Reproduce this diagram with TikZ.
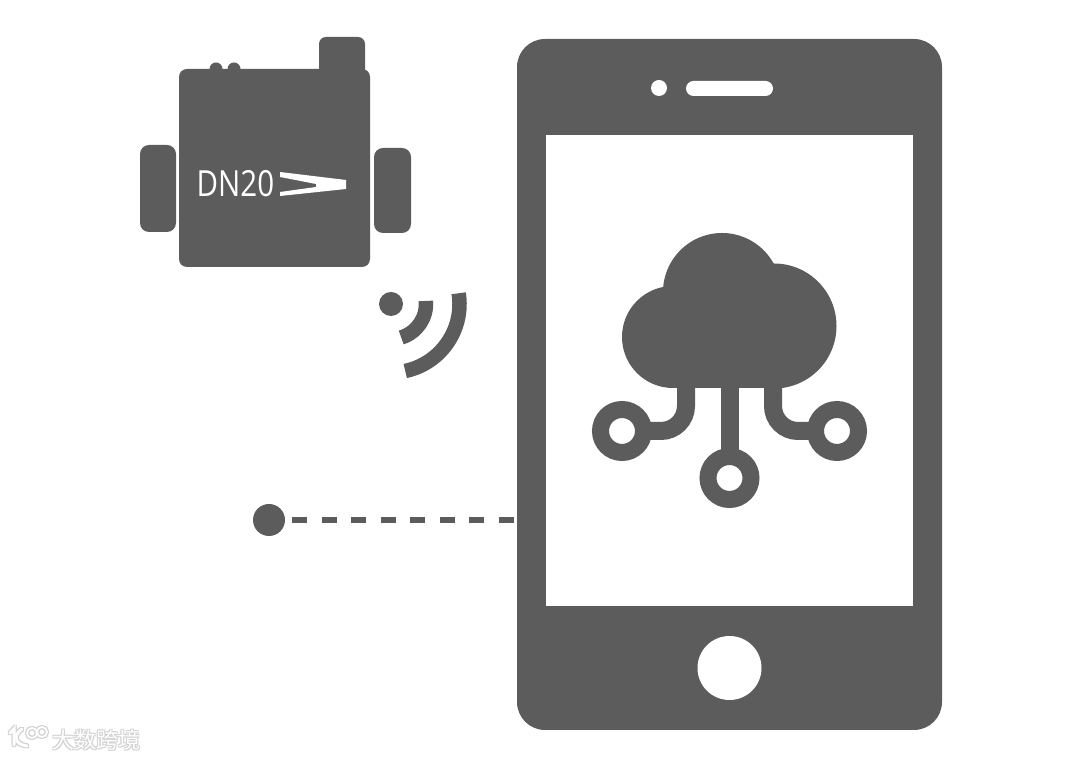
\documentclass[tikz,border=0pt]{standalone}
\usepackage{fontspec}
\setmainfont[FakeStretch=0.82]{Open Sans}
\newfontfamily\cjk{Noto Sans CJK SC}
\definecolor{ink}{HTML}{5C5C5C}
\definecolor{wmshadow}{HTML}{D2D2D2}
\tikzset{
  x=1pt,y=1pt,
  solid box/.style={draw=none,fill=ink,inner sep=0pt,outer sep=0pt,rectangle,rounded corners=#1},
  solid box/.default=8pt,
  hole/.style={draw=none,fill=white,inner sep=0pt,outer sep=0pt},
  disc/.style={circle,draw=none,fill=ink,inner sep=0pt,outer sep=0pt,minimum size=#1},
  wdisc/.style={circle,draw=none,fill=white,inner sep=0pt,outer sep=0pt,minimum size=#1},
  ring/.style={circle,draw=ink,line width=17pt,fill=white,inner sep=0pt,outer sep=0pt,minimum size=43pt},
  wire/.style={draw=ink,line width=18pt},
  wave/.style={draw=ink,line width=14.5pt},
  dash line/.style={draw=ink,line width=5.5pt,dash pattern=on 15pt off 14.5pt},
  wm/.style={font=\cjk\fontsize{22}{22}\selectfont,inner sep=0pt},
}
\newcommand{\wmlogo}[1]{%
  \draw[#1,line width=3pt,line cap=round] (10,27) -- (14,31) -- (14,15);
  \draw[#1,line width=3pt,line cap=round] (22,31) .. controls (13,25) and (14,16) .. (27,14);
  \draw[#1,line width=1.8pt] (32,27) circle[radius=5pt];
  \draw[#1,line width=1.8pt] (42,28) circle[radius=5pt];
}
\newcommand{\wmtext}[3]{\node[wm,text=#1,anchor=west] at (#2,#3) {大数跨境};}
\begin{document}
\begin{tikzpicture}
\useasboundingbox (0,0) rectangle (1080,760);
% phone
\node[solid box=28pt,minimum width=425pt,minimum height=691pt] (phone) at (729.5,375.5) {};
\node[hole,rectangle,minimum width=367pt,minimum height=471pt] (screen) at (729.5,389.5) {};
\node[wdisc=16pt] (camera) at (659,672) {};
\node[hole,rectangle,rounded corners=7.5pt,minimum width=87pt,minimum height=15pt] (speaker) at (729.5,671.5) {};
\node[wdisc=64pt] (homebtn) at (729.5,92) {};
% cloud
\node[disc=102pt] (lobeL) at (673,423) {};
\node[disc=118pt] (lobeT) at (722,468) {};
\node[disc=125pt] (lobeR) at (774,434) {};
\fill[ink] (673,372) rectangle (774,430);
\node[ring] (ringL) at (622,329) {};
\node[ring] (ringC) at (729.5,282) {};
\node[ring] (ringR) at (837,329) {};
\draw[wire] (686,373) -- (686,354) arc[start angle=0,end angle=-90,radius=25pt] -- (ringL.east);
\draw[wire] (729.5,373) -- (ringC.north);
\draw[wire] (773,373) -- (773,354) arc[start angle=180,end angle=270,radius=25pt] -- (ringR.west);
% device
\node[disc=13pt] (bumpA) at (216,691) {};
\node[disc=13pt] (bumpB) at (234,691) {};
\node[solid box=7pt,minimum width=46pt,minimum height=50pt] (tab) at (342,698) {};
\node[solid box=8pt,minimum width=191pt,minimum height=198pt] (body) at (274.5,592) {};
\node[solid box=9pt,minimum width=36pt,minimum height=87pt] (lugL) at (158,571.5) {};
\node[solid box=9pt,minimum width=37pt,minimum height=85pt] (lugR) at (392.5,569.5) {};
\node[text=white,inner sep=0pt,anchor=west,font=\fontsize{36}{36}\selectfont] (label) at (196.5,576.5) {DN20};
\fill[white] (280,588) -- (346,580) -- (346,571) -- (280,564) -- (280,568) -- (316,573) -- (316,576) -- (280,583) -- cycle;
% wifi
\node[disc=24pt] (wifidot) at (391,456) {};
\draw[wave] ([shift={(5:35pt)}]wifidot.center) arc[start angle=5,end angle=-73,radius=35pt];
\draw[wave] ([shift={(9:68.5pt)}]wifidot.center) arc[start angle=9,end angle=-78,radius=68.5pt];
% dashed link
\node[disc=32pt] (anchor) at (269,240) {};
\draw[dash line] (anchor.east) ++(7,0) -- (phone.west |- anchor.east);
% watermark
\begin{scope}[xshift=1pt,yshift=-1pt]\wmlogo{wmshadow}\wmtext{wmshadow}{52}{20}\end{scope}
\begin{scope}[xshift=-1pt,yshift=1pt]\wmlogo{wmshadow}\wmtext{wmshadow}{52}{20}\end{scope}
\begin{scope}[xshift=1pt,yshift=1pt]\wmlogo{wmshadow}\wmtext{wmshadow}{52}{20}\end{scope}
\begin{scope}[xshift=-1pt,yshift=-1pt]\wmlogo{wmshadow}\wmtext{wmshadow}{52}{20}\end{scope}
\wmlogo{white}
\node[wm,text=white,anchor=west] (mark) at (52,20) {大数跨境};
\end{tikzpicture}
\end{document}
